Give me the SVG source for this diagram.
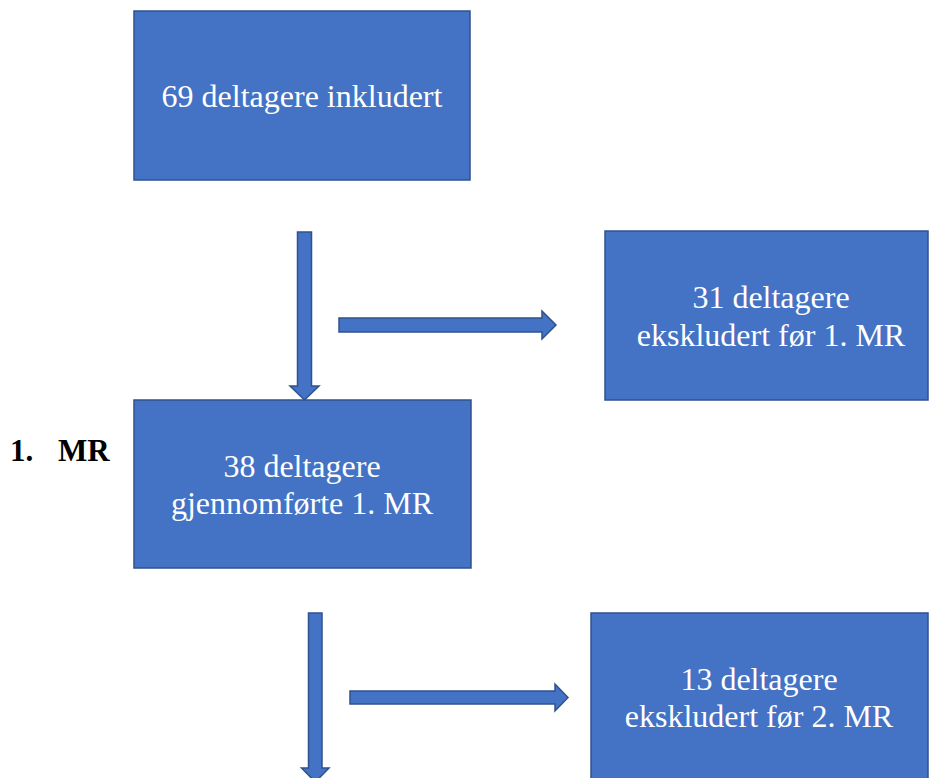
<svg xmlns="http://www.w3.org/2000/svg" width="930" height="778" viewBox="0 0 930 778">
<style>
.box{fill:#4472C4;stroke:#2F528F;stroke-width:1.5}
.arr{fill:#4472C4;stroke:#2F528F;stroke-width:1.5}
.t{font-family:"Liberation Serif","Times New Roman",serif;font-size:32px;fill:#ffffff;text-anchor:middle}
.lbl{font-family:"Liberation Serif","Times New Roman",serif;font-size:31px;font-weight:bold;fill:#000000}
</style>
<rect width="930" height="778" fill="#ffffff"/>
<g id="connectors">
<polygon class="arr" points="297.5,232 311.5,232 311.5,386 319,386 304.5,400 290,386 297.5,386"/>
<polygon class="arr" points="339,318 542,318 542,311 556,325 542,339 542,332 339,332"/>
<polygon class="arr" points="308.5,613 322,613 322,768 329,768 315.3,782 301.5,768 308.5,768"/>
<polygon class="arr" points="350,691 555,691 555,684 568,697.5 555,711 555,704 350,704"/>
</g>
<g id="node-included">
<rect class="box" x="134" y="11" width="336" height="169"/>
<text class="t" x="302" y="107">69 deltagere inkludert</text>
</g>
<g id="node-excluded1">
<rect class="box" x="605" y="231" width="323" height="169"/>
<text class="t" x="771" y="308">31 deltagere</text>
<text class="t" x="771" y="346">ekskludert før 1. MR</text>
</g>
<g id="node-mr1">
<rect class="box" x="134" y="400" width="337" height="168"/>
<text class="t" x="302" y="477">38 deltagere</text>
<text class="t" x="302" y="514">gjennomførte 1. MR</text>
</g>
<g id="node-excluded2">
<rect class="box" x="591" y="613" width="337" height="175"/>
<text class="t" x="759" y="690">13 deltagere</text>
<text class="t" x="759" y="727">ekskludert før 2. MR</text>
</g>
<g id="label-mr1">
<text class="lbl" x="10" y="461">1.</text>
<text class="lbl" x="58" y="461">MR</text>
</g>
</svg>
